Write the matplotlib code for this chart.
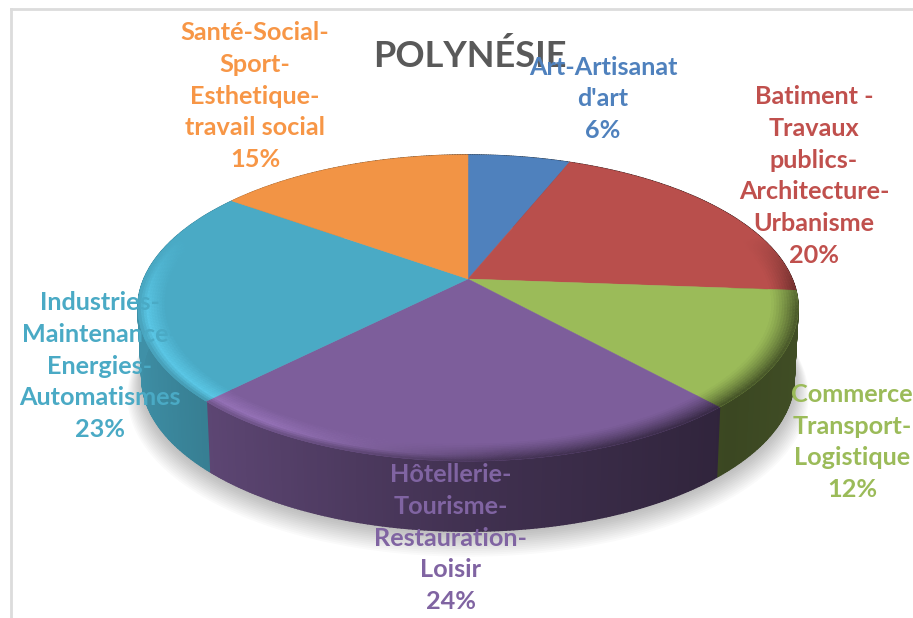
import numpy as np
import matplotlib
matplotlib.use("Agg")
import matplotlib.pyplot as plt
from matplotlib.collections import PolyCollection
from matplotlib.colors import to_rgb

labels = ["Art-Artisanat\nd'art",
          "Batiment -\nTravaux\npublics-\nArchitecture-\nUrbanisme",
          "Commerce\nTransport-\nLogistique",
          "Hôtellerie-\nTourisme-\nRestauration-\nLoisir",
          "Industries-\nMaintenance-\nEnergies-\nAutomatismes",
          "Santé-Social-\nSport-\nEsthetique-\ntravail social"]
values = [6, 20.2, 12.2, 23.9, 22.7, 15]
colors = ["#4f81bd", "#b94f4c", "#9bbb59", "#7d5e9b", "#4aaac5", "#f29445"]
text_colors = ["#4f81bd", "#c0504d", "#9bbb59", "#8064a2", "#4aaac5", "#f79646"]
label_pos = [(603, 99), (814, 176), (852, 442), (451, 538), (100, 366), (255, 96)]
title = "POLYNÉSIE"

# pie geometry in pixels, with a bit of perspective
cx, cy = 468, 279
rx, ry = 324, 147.5
persp = 0.19
depth = 70


def project(theta, r=1.0, drop=0.0):
    u = r * np.sin(theta)
    v = r * np.cos(theta)
    d = 1 + persp * v
    shrink = 1 - 0.012 * drop / depth
    return cx + rx * shrink * u / d, cy - ry * v / d + drop


def wall_shade(theta):
    # light from the left, gets dark to the right
    return np.interp(np.sin(theta), [-1, -0.75, 0, 0.7, 1], [0.85, 0.76, 0.52, 0.38, 0.42])


def mix(c1, c2, t):
    return tuple((1 - t) * a + t * b for a, b in zip(c1, c2))


plt.rcParams["font.family"] = ["Lato", "DejaVu Sans"]
fig = plt.figure(figsize=(9.13, 6.18), dpi=100)
ax = fig.add_axes([0, 0, 1, 1])
ax.set_xlim(0, 913)
ax.set_ylim(618, 0)
ax.axis("off")

# frame of the pasted picture
ax.plot([11, 11], [9, 618], color="#dcdcdc", lw=2, zorder=1)
ax.plot([11, 913], [9, 9], color="#dcdcdc", lw=2, zorder=1)

# soft shadow below the pie
full = np.linspace(0, 2 * np.pi, 300)
for i in range(14):
    sx, sy = project(full, r=1.0 + i * 0.0035, drop=depth + 1 + i * 1.1)
    ax.fill(sx, sy, color="black", alpha=0.018, lw=0, zorder=2)

angles = np.cumsum([0] + values) / sum(values) * 2 * np.pi

# side wall
for i, col in enumerate(colors):
    base = to_rgb(col)
    th = np.linspace(angles[i], angles[i + 1], int(values[i] * 6) + 10)
    polys, face = [], []
    for a, b in zip(th[:-1], th[1:]):
        x1, y1 = project(a)
        x2, y2 = project(b)
        x3, y3 = project(b, drop=depth)
        x4, y4 = project(a, drop=depth)
        polys.append([(x1, y1), (x2, y2), (x3, y3), (x4, y4)])
        s = wall_shade((a + b) / 2)
        face.append(tuple(c * s for c in base))
    ax.add_collection(PolyCollection(polys, facecolors=face, edgecolors=face, linewidths=1.2, zorder=3))

# top of the slices
for i, col in enumerate(colors):
    th = np.linspace(angles[i], angles[i + 1], int(values[i] * 6) + 10)
    x, y = project(th)
    ax.fill(np.r_[cx, x], np.r_[cy, y], color=col, lw=0.3, zorder=4)

# bevel on the rim
rings = np.linspace(0.915, 1.0, 12)
for i, col in enumerate(colors):
    base = to_rgb(col)
    light = tuple(min(c * 1.13 + 0.03, 1) for c in base)
    th = np.linspace(angles[i], angles[i + 1], int(values[i] * 6) + 10)
    polys, face = [], []
    for a, b in zip(th[:-1], th[1:]):
        m = (a + b) / 2
        weight = np.clip((0.3 - np.cos(m)) / 0.5, 0, 1)
        left = np.clip(-np.sin(m) * 1.6 + 0.15, 0, 1)
        wall = tuple(c * wall_shade(m) for c in base)
        for r1, r2 in zip(rings[:-1], rings[1:]):
            t = (r1 - rings[0]) / (rings[-1] - rings[0])
            # left side: up to a highlight then into the wall, right side: straight to dark
            if t < 0.65:
                lit = mix(base, light, t / 0.65)
            else:
                lit = mix(light, wall, (t - 0.65) / 0.35 * 0.8)
            dark = mix(base, wall, t ** 1.3)
            c = mix(base, mix(dark, lit, left), weight)
            x1, y1 = project(a, r1)
            x2, y2 = project(b, r1)
            x3, y3 = project(b, r2)
            x4, y4 = project(a, r2)
            polys.append([(x1, y1), (x2, y2), (x3, y3), (x4, y4)])
            face.append(c)
    ax.add_collection(PolyCollection(polys, facecolors=face, edgecolors=face, linewidths=0.3, zorder=5))

ax.text(470, 56, title, color="#595959", fontsize=26, fontweight="bold",
        ha="center", va="center", zorder=6)
for lab, val, tc, pos in zip(labels, values, text_colors, label_pos):
    ax.text(pos[0], pos[1], "%s\n%.0f%%" % (lab, val), color=tc, fontsize=18.2,
            fontweight="bold", ha="center", va="center", linespacing=1.47, zorder=7)

fig.savefig("out.png", dpi=100, facecolor="white")
